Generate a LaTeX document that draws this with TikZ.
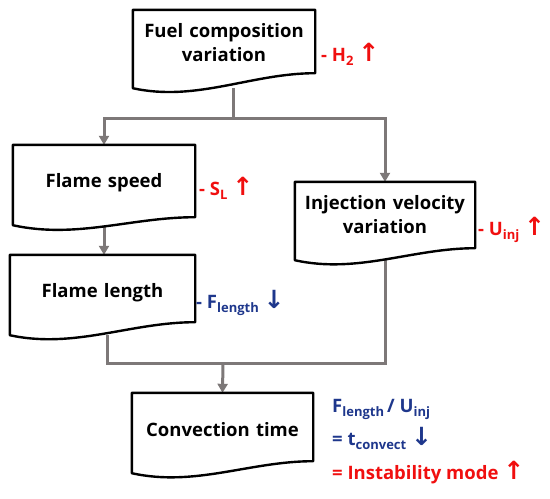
\documentclass[tikz,border=0pt]{standalone}
\usepackage{fontspec}
\setmainfont{Open Sans}
\newfontfamily\arrfont{DejaVu Sans}
\usetikzlibrary{arrows.meta,calc}
\definecolor{myred}{RGB}{240,15,15}
\definecolor{myblue}{RGB}{30,55,140}
\definecolor{conngray}{RGB}{125,120,120}
\pgfdeclarelayer{connlayer}
\pgfdeclarelayer{boxlayer}
\pgfsetlayers{connlayer,boxlayer,main}
\newcommand\sbs[1]{\raisebox{-4pt}{\fontsize{13}{13}\selectfont #1}}
\newcommand\uparr{{\arrfont\bfseries\fontsize{25}{25}\selectfont ↑}}
\newcommand\dnarr{{\arrfont\bfseries\fontsize{25}{25}\selectfont ↓}}
\newcommand\docoutline[2]{%
  \draw[docline] let \p1=(#1.south west), \p2=(#1.north east) in
    (\x1,\y1) -- (\x1,\y2) -- (\x2,\y2) -- (\x2,{\y1+#2})
    .. controls ({\x2-0.35*(\x2-\x1)},{\y1+#2}) and ({\x1+0.35*(\x2-\x1)},{\y1-14pt}) .. cycle;}
\begin{document}
\begin{tikzpicture}[x=1pt,y=-1pt,
  boxtext/.style={inner sep=0pt, align=center, anchor=base, font=\fontsize{18.5}{24}\selectfont\bfseries},
  conn/.style={draw=conngray, line width=3pt},
  arr/.style={-{Triangle[length=9pt,width=10pt]}},
  docline/.style={draw=black, line width=2.4pt, fill=white, line join=round},
  lab/.style={anchor=base west, inner sep=0pt, font=\fontsize{18.5}{22}\selectfont\bfseries}]
\useasboundingbox (0,0) rectangle (550,499);
% boxes (text)
\node[boxtext, text width=182pt, text height=27pt, text depth=51pt] (b1) at (224,37) {Fuel composition\\variation};
\node[boxtext, text width=182pt, text height=42pt, text depth=38pt] (b2) at (104,187) {Flame speed};
\node[boxtext, text width=185pt, text height=42pt, text depth=38pt] (b3) at (102.5,297) {Flame length};
\node[boxtext, text width=180pt, text height=27pt, text depth=51pt] (b4) at (385,209) {Injection velocity\\variation};
\node[boxtext, text width=181pt, text height=43pt, text depth=37pt] (b5) at (222.5,436) {Convection time};
% outlines
\begin{pgfonlayer}{boxlayer}
\docoutline{b1}{15pt}
\docoutline{b2}{8pt}
\docoutline{b3}{13pt}
\docoutline{b4}{12pt}
\docoutline{b5}{12pt}
\end{pgfonlayer}
% labels
\node[lab, text=myred] (lh2) at (321,61) {- H\sbs{2} \uparr};
\node[lab, text=myred] (lsl) at (199,195) {- S\sbs{L} \uparr};
\node[lab, text=myred] (lu) at (478,235) {- U\sbs{inj} \uparr};
\node[lab, text=myblue] (lf) at (196,308) {- F\sbs{length} \dnarr};
\node[lab, text=myblue] (t1) at (332,412) {F\sbs{length}\,/ U\sbs{inj}};
\node[lab, text=myblue] (t2) at (332,445) {= t\sbs{convect} \dnarr};
\node[lab, text=myred] (t3) at (332,479) {= Instability mode \uparr};
% connectors
\coordinate (j1) at (233,118);
\coordinate (j2) at (223,363);
\begin{pgfonlayer}{connlayer}
\draw[conn] (j1 |- b1.south) -- (j1);
\draw[conn,arr] (j1) -| (b2.north);
\draw[conn,arr] (j1) -| (b4.north);
\draw[conn,arr] (b2.south) -- (b2.south |- b3.north);
\draw[conn] ([xshift=5pt]b3.south) |- (b4.south |- j2) -- (b4.south);
\draw[conn,arr] (j2) -- (b5.north);
\end{pgfonlayer}
\end{tikzpicture}
\end{document}
